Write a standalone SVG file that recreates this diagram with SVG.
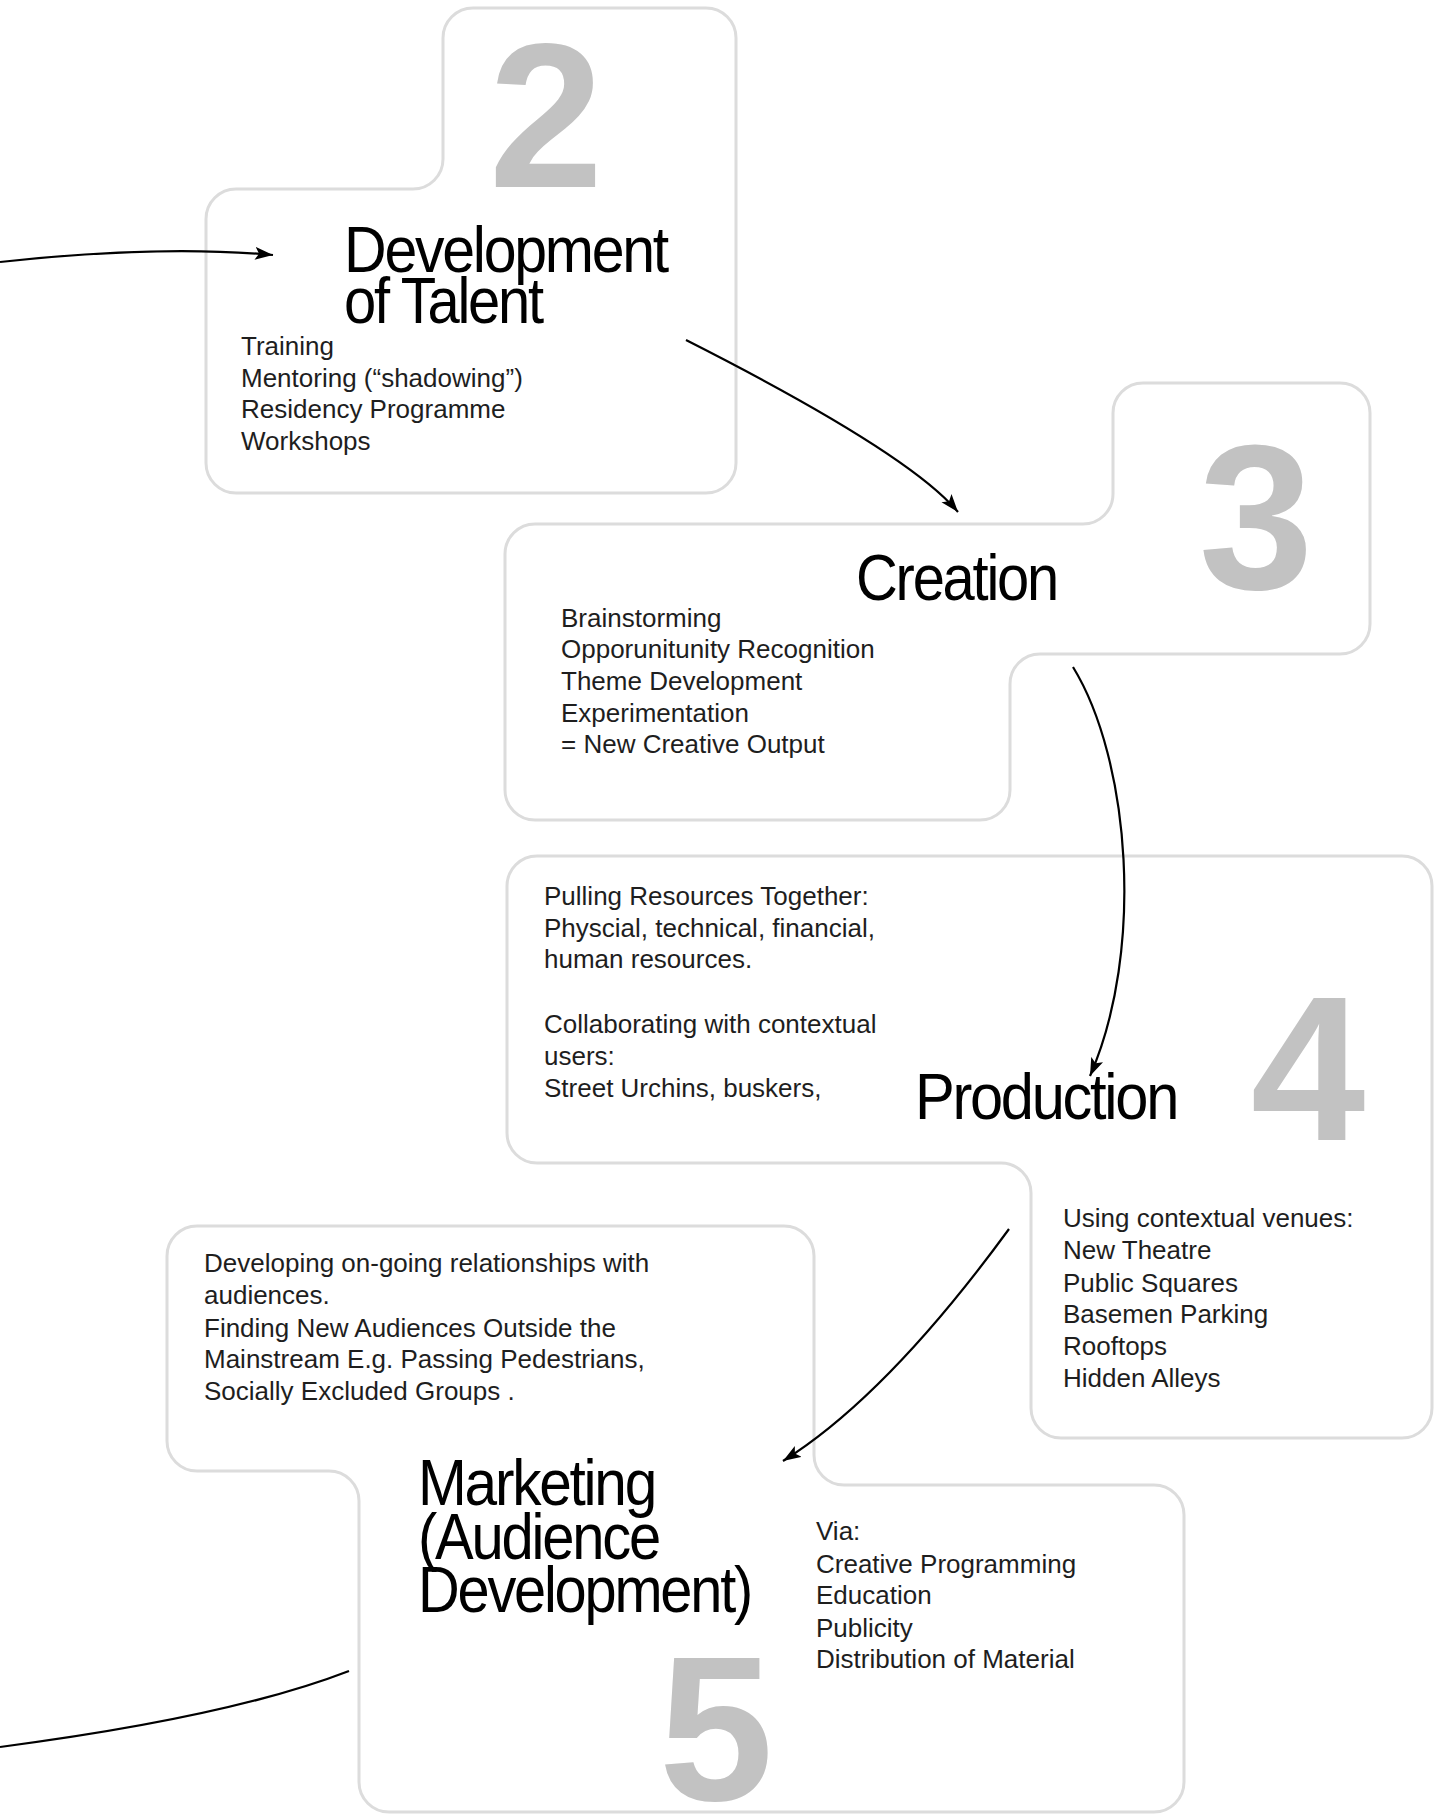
<svg xmlns="http://www.w3.org/2000/svg" width="1435" height="1815" viewBox="0 0 1435 1815">
<defs>
<style>
.box{fill:#ffffff;stroke:#dcdcdc;stroke-width:3}
.num{font-family:"Liberation Sans",Arial,sans-serif;font-weight:bold;font-size:206px;fill:#c2c2c2;text-anchor:middle}
.head{font-family:"Liberation Sans",Arial,sans-serif;font-size:65px;fill:#000000;letter-spacing:-2.5px}
.body{font-family:"Liberation Sans",Arial,sans-serif;font-size:26px;fill:#1e1e1e}
.conn{fill:none;stroke:#000000;stroke-width:2.2}
</style>
<marker id="arrow" markerUnits="userSpaceOnUse" markerWidth="20" markerHeight="14" refX="18" refY="6.5" orient="auto">
<path d="M0,0 L18,6.5 L0,13 L4,6.5 Z" fill="#000000"/>
</marker>
</defs>
<rect width="1435" height="1815" fill="#ffffff"/>

<g id="node2">
<path class="box" d="M473,8 H706 A30,30 0 0 1 736,38 V463 A30,30 0 0 1 706,493 H236 A30,30 0 0 1 206,463 V219 A30,30 0 0 1 236,189 H413 A30,30 0 0 0 443,159 V38 A30,30 0 0 1 473,8 Z"/>
<text class="num" x="546" y="187">2</text>
<text class="head" x="344" y="272" textLength="323" lengthAdjust="spacingAndGlyphs">Development</text>
<text class="head" x="344" y="323" textLength="198" lengthAdjust="spacingAndGlyphs">of Talent</text>
<text class="body" x="241" y="355">Training</text>
<text class="body" x="241" y="387">Mentoring (“shadowing”)</text>
<text class="body" x="241" y="418">Residency Programme</text>
<text class="body" x="241" y="450">Workshops</text>
</g>

<g id="node3">
<path class="box" d="M535,524 H1083 A30,30 0 0 0 1113,494 V413 A30,30 0 0 1 1143,383 H1340 A30,30 0 0 1 1370,413 V624 A30,30 0 0 1 1340,654 H1040 A30,30 0 0 0 1010,684 V790 A30,30 0 0 1 980,820 H535 A30,30 0 0 1 505,790 V554 A30,30 0 0 1 535,524 Z"/>
<text class="num" x="1256" y="589">3</text>
<text class="head" x="856" y="600" textLength="201" lengthAdjust="spacingAndGlyphs">Creation</text>
<text class="body" x="561" y="627">Brainstorming</text>
<text class="body" x="561" y="658">Opporunitunity Recognition</text>
<text class="body" x="561" y="690">Theme Development</text>
<text class="body" x="561" y="722">Experimentation</text>
<text class="body" x="561" y="753">= New Creative Output</text>
</g>

<g id="node4">
<path class="box" d="M537,856 H1402 A30,30 0 0 1 1432,886 V1408 A30,30 0 0 1 1402,1438 H1061 A30,30 0 0 1 1031,1408 V1193 A30,30 0 0 0 1001,1163 H537 A30,30 0 0 1 507,1133 V886 A30,30 0 0 1 537,856 Z"/>
<text class="num" x="1308" y="1140">4</text>
<text class="head" x="915" y="1119" textLength="262" lengthAdjust="spacingAndGlyphs">Production</text>
<text class="body" x="544" y="905">Pulling Resources Together:</text>
<text class="body" x="544" y="937">Physcial, technical, financial,</text>
<text class="body" x="544" y="968">human resources.</text>
<text class="body" x="544" y="1033">Collaborating with contextual</text>
<text class="body" x="544" y="1065">users:</text>
<text class="body" x="544" y="1097">Street Urchins, buskers,</text>
<text class="body" x="1063" y="1227">Using contextual venues:</text>
<text class="body" x="1063" y="1259">New Theatre</text>
<text class="body" x="1063" y="1292">Public Squares</text>
<text class="body" x="1063" y="1323">Basemen Parking</text>
<text class="body" x="1063" y="1355">Rooftops</text>
<text class="body" x="1063" y="1387">Hidden Alleys</text>
</g>

<g id="node5">
<path class="box" d="M197,1226 H784 A30,30 0 0 1 814,1256 V1455 A30,30 0 0 0 844,1485 H1154 A30,30 0 0 1 1184,1515 V1782 A30,30 0 0 1 1154,1812 H389 A30,30 0 0 1 359,1782 V1501 A30,30 0 0 0 329,1471 H197 A30,30 0 0 1 167,1441 V1256 A30,30 0 0 1 197,1226 Z"/>
<text class="num" x="716" y="1800">5</text>
<text class="head" x="418" y="1505" textLength="237" lengthAdjust="spacingAndGlyphs">Marketing</text>
<text class="head" x="418" y="1559" textLength="241" lengthAdjust="spacingAndGlyphs">(Audience</text>
<text class="head" x="418" y="1612" textLength="333" lengthAdjust="spacingAndGlyphs">Development)</text>
<text class="body" x="204" y="1272">Developing on-going relationships with</text>
<text class="body" x="204" y="1304">audiences.</text>
<text class="body" x="204" y="1337">Finding New Audiences Outside the</text>
<text class="body" x="204" y="1368">Mainstream E.g. Passing Pedestrians,</text>
<text class="body" x="204" y="1400">Socially Excluded Groups .</text>
<text class="body" x="816" y="1540">Via:</text>
<text class="body" x="816" y="1573">Creative Programming</text>
<text class="body" x="816" y="1604">Education</text>
<text class="body" x="816" y="1637">Publicity</text>
<text class="body" x="816" y="1668">Distribution of Material</text>
</g>

<g id="connectors">
<path class="conn" d="M0,262 Q160,244.5 273,255" marker-end="url(#arrow)"/>
<path class="conn" d="M686,340 Q909,453 958,512" marker-end="url(#arrow)"/>
<path class="conn" d="M1073,667 C1130,760 1145,950 1090,1076" marker-end="url(#arrow)"/>
<path class="conn" d="M1009,1229 Q887,1396 783,1461" marker-end="url(#arrow)"/>
<path class="conn" d="M349,1671 Q230,1717 0,1747"/>
</g>
</svg>
